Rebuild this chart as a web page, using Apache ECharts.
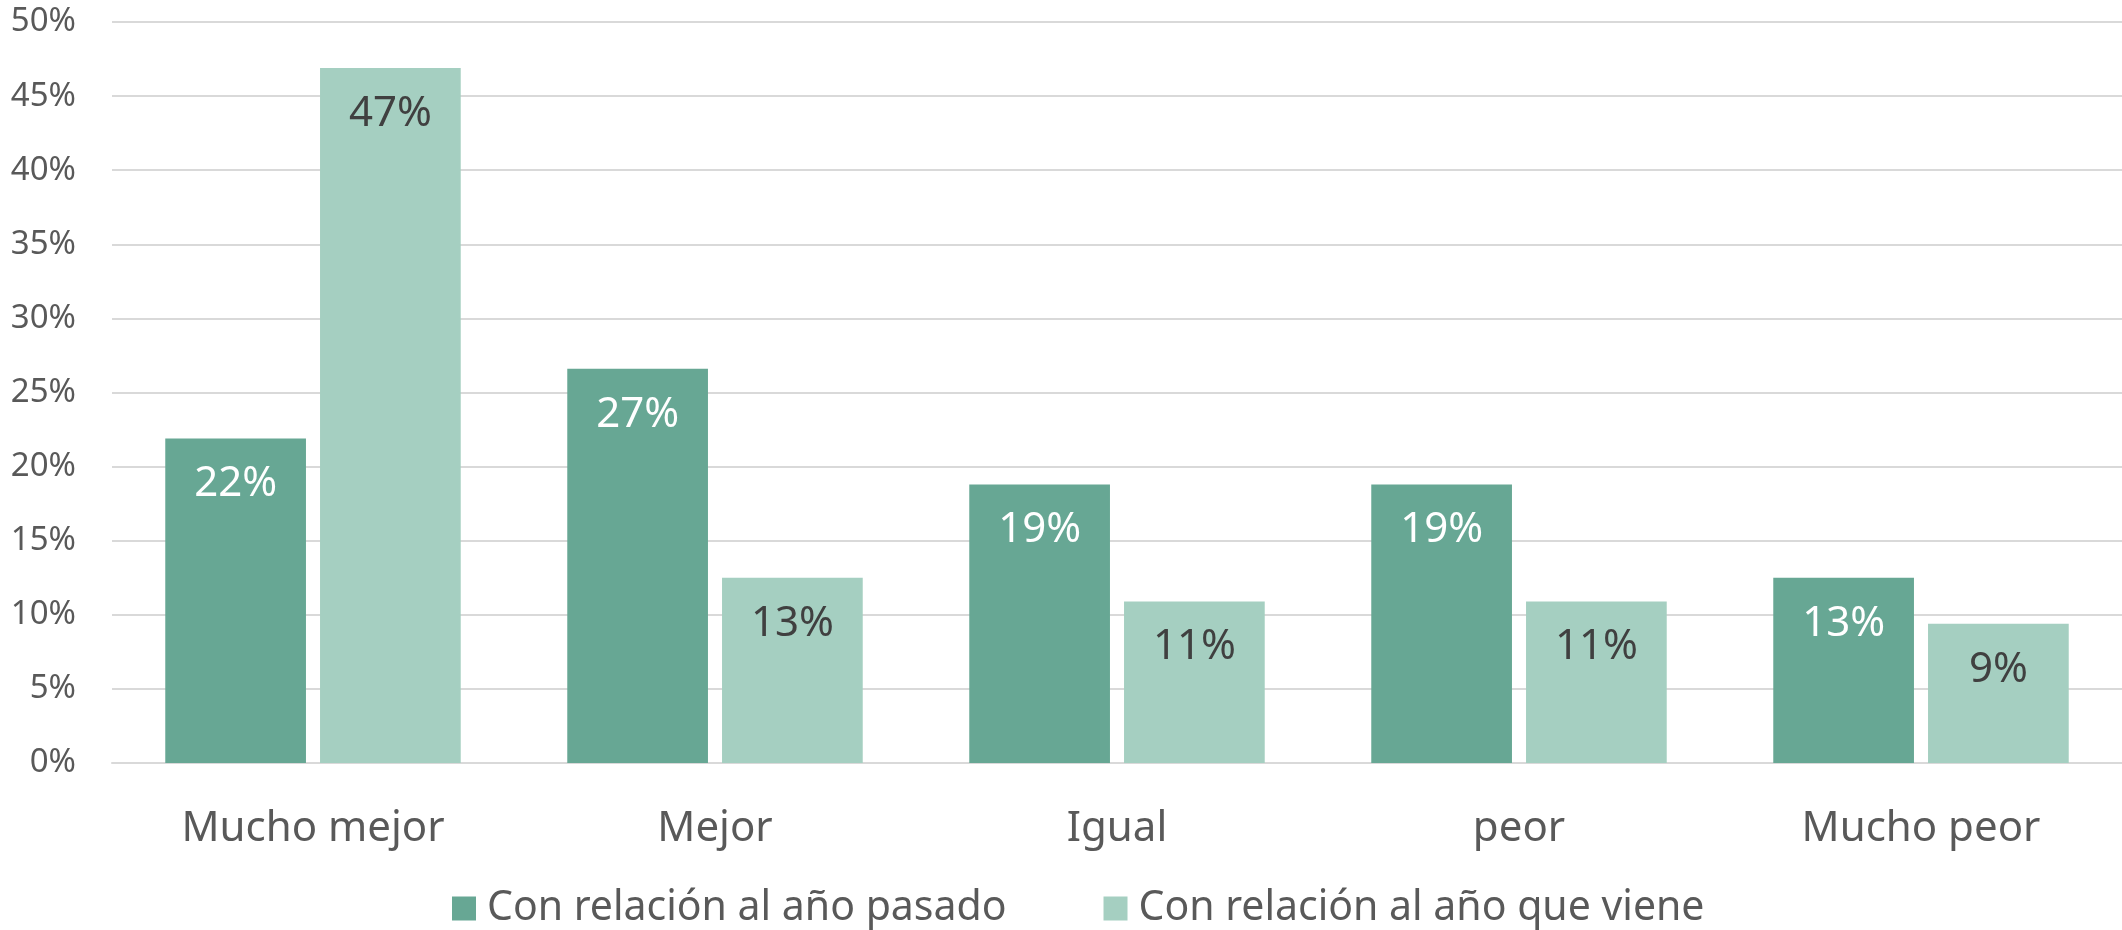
<!DOCTYPE html>
<html>
<head>
<meta charset="utf-8">
<title>Con relación al año</title>
<script src="https://cdn.jsdelivr.net/npm/echarts@6/dist/echarts.min.js"></script>
<style>
	html, body { margin: 0; padding: 0; background: #fff; }
	#chart { width: 2122px; height: 930px; }
</style>
</head>
<body>
<div id="chart"></div>
<script>
"use strict";

var categories = ['Mucho mejor', 'Mejor', 'Igual', 'peor', 'Mucho peor'];
var seriesNames = ['Con relación al año pasado', 'Con relación al año que viene'];
var pastYear = [21.9, 26.6, 18.8, 18.8, 12.5];
var nextYear = [46.9, 12.5, 10.9, 10.9, 9.4];

var darkColor = '#67A794';
var lightColor = '#A5CFC1';
var fontFamily = '"Noto Sans", "Open Sans", sans-serif';

var myChart = echarts.init(document.getElementById('chart'));

function pctLabel(p) {
	return Math.round(p.value) + '%';
}

function makeSeries(name, data, color, labelColor) {
	return {
		name: name,
		type: 'bar',
		data: data,
		barWidth: '35%',
		barGap: '10%',
		itemStyle: { color: color },
		label: {
			show: true,
			position: 'insideTop',
			distance: 25,
			color: labelColor,
			fontSize: 42,
			fontFamily: fontFamily,
			formatter: pctLabel
		}
	};
}

myChart.setOption({
	animation: false,
	backgroundColor: '#ffffff',
	grid: { left: 112, right: 0, top: 22, bottom: 167 },
	legend: {
		top: 883,
		left: 447,
		itemWidth: 24,
		itemHeight: 24,
		itemGap: 97,
		icon: 'rect',
		textStyle: { color: '#595959', fontSize: 41, fontFamily: fontFamily, padding: [0, 0, 0, 6] },
		data: seriesNames
	},
	xAxis: {
		type: 'category',
		data: categories,
		axisLine: { lineStyle: { color: '#D9D9D9', width: 2 } },
		axisTick: { show: false },
		axisLabel: { color: '#595959', fontSize: 42, fontFamily: fontFamily, margin: 45 }
	},
	yAxis: {
		type: 'value',
		min: 0,
		max: 50,
		interval: 5,
		axisLine: { show: false },
		axisTick: { show: false },
		splitLine: { lineStyle: { color: '#D9D9D9', width: 2 } },
		axisLabel: { color: '#595959', fontSize: 33, fontFamily: fontFamily, margin: 36, formatter: '{value}%' }
	},
	series: [
		makeSeries(seriesNames[0], pastYear, darkColor, '#ffffff'),
		makeSeries(seriesNames[1], nextYear, lightColor, '#404040')
	]
});
</script>
</body>
</html>
